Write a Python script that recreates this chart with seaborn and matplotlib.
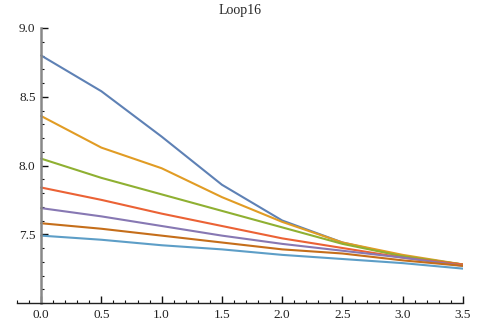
import matplotlib
matplotlib.use("Agg")
from matplotlib import pyplot as plt
from matplotlib.ticker import MultipleLocator
import seaborn as sns
import pandas as pd

x_vals = [0.0, 0.5, 1.0, 1.5, 2.0, 2.5, 3.0, 3.5]

s1 = [8.80, 8.54, 8.21, 7.86, 7.60, 7.44, 7.34, 7.28]
s2 = [8.36, 8.13, 7.98, 7.77, 7.59, 7.44, 7.35, 7.28]
s3 = [8.05, 7.91, 7.79, 7.67, 7.55, 7.43, 7.34, 7.28]
s4 = [7.84, 7.75, 7.65, 7.56, 7.47, 7.40, 7.33, 7.28]
s5 = [7.69, 7.63, 7.56, 7.49, 7.43, 7.38, 7.33, 7.27]
s6 = [7.58, 7.54, 7.49, 7.44, 7.39, 7.36, 7.31, 7.27]
s7 = [7.49, 7.46, 7.42, 7.39, 7.35, 7.32, 7.29, 7.25]

series = {"s1": s1, "s2": s2, "s3": s3, "s4": s4, "s5": s5, "s6": s6, "s7": s7}
colors = ["#5E81B5", "#E19C24", "#8FB032", "#EB6235", "#8778B3", "#C56E1A", "#5D9EC7"]

rows = []
for name, vals in series.items():
    for xv, yv in zip(x_vals, vals):
        rows.append({"x": xv, "y": yv, "series": name})
df = pd.DataFrame(rows)

sns.set_style("white")
plt.rcParams["font.family"] = ["Liberation Serif", "DejaVu Serif"]

fig = plt.figure(figsize=(4.78, 3.24), dpi=100)
ax = fig.add_axes([17 / 478, 1 - 303 / 324, (463 - 17) / 478, (303 - 28) / 324])

sns.lineplot(data=df, x="x", y="y", hue="series", palette=colors,
             linewidth=1.5, legend=False, ax=ax)

ax.set_xlim(-0.2, 3.5)
ax.set_ylim(7.0, 9.0)
ax.set_xlabel("")
ax.set_ylabel("")

for side in ["top", "right"]:
    ax.spines[side].set_visible(False)
ax.spines["left"].set_position(("data", 0))
ax.spines["left"].set_color("#888888")
ax.spines["left"].set_linewidth(1.8)
ax.spines["bottom"].set_color("#222222")
ax.spines["bottom"].set_linewidth(1.0)

ax.set_xticks([0.0, 0.5, 1.0, 1.5, 2.0, 2.5, 3.0, 3.5])
ax.set_xticklabels(["0.0", "0.5", "1.0", "1.5", "2.0", "2.5", "3.0", "3.5"])
ax.set_yticks([7.5, 8.0, 8.5, 9.0])
ax.set_yticklabels(["7.5", "8.0", "8.5", "9.0"])
ax.xaxis.set_minor_locator(MultipleLocator(0.1))
ax.yaxis.set_minor_locator(MultipleLocator(0.1))
ax.tick_params(axis="x", which="both", bottom=True, direction="in")
ax.tick_params(axis="y", which="both", left=True, direction="in")
ax.tick_params(axis="both", which="major", length=5, width=1,
               color="#111111", labelsize=9.5, labelcolor="#222222", pad=4)
ax.tick_params(axis="both", which="minor", length=2.5, width=0.8,
               color="#111111")

ax.set_title("Loop16", fontsize=10, pad=10)

fig.savefig("out.png", dpi=100)
